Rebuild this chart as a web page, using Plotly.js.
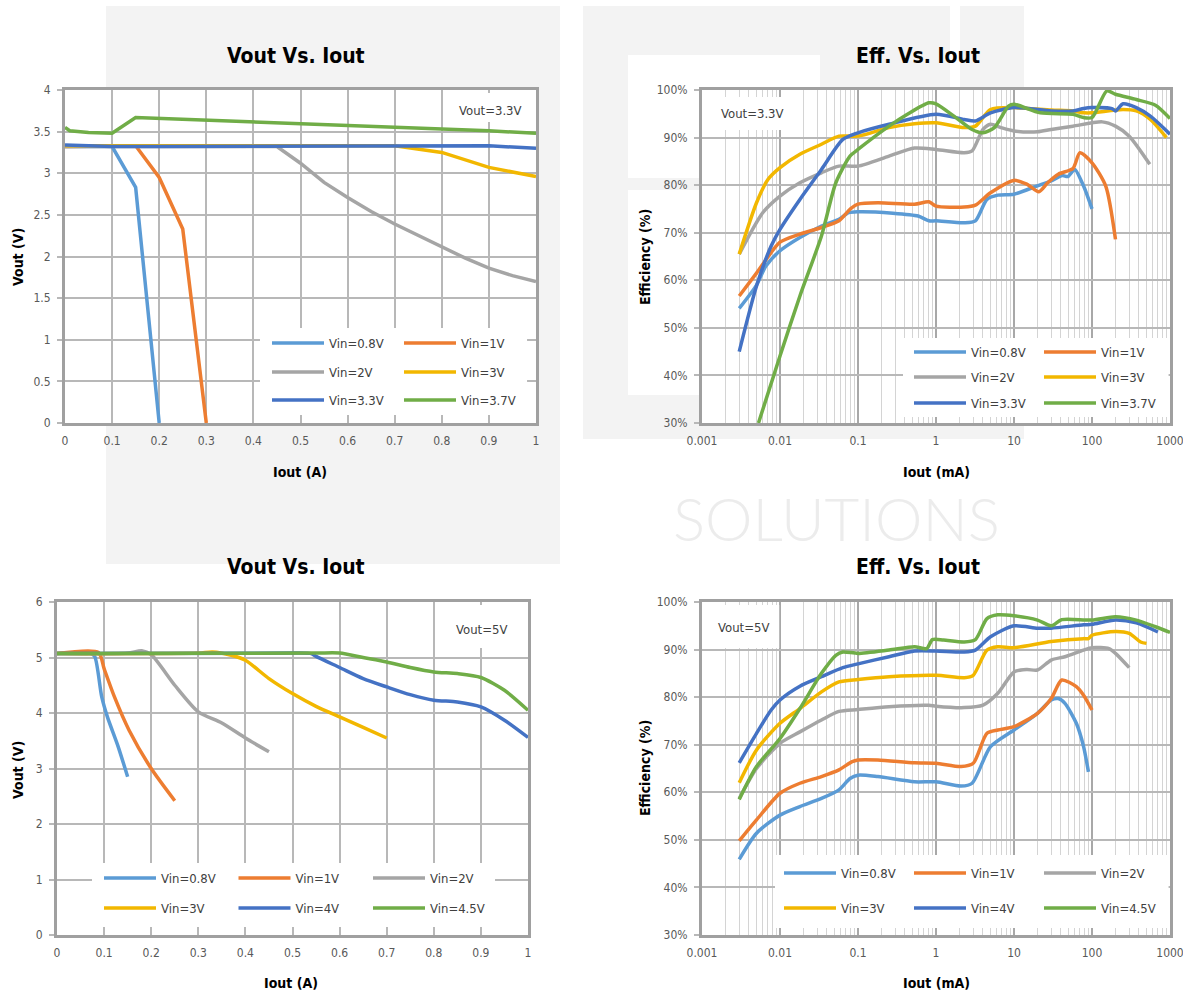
<!DOCTYPE html>
<html>
<head>
<meta charset="utf-8">
<script src="https://cdn.plot.ly/plotly-3.0.1.min.js"></script>
<style>html,body{margin:0;padding:0;background:#fff;}#chart{width:1183px;height:993px;}</style>
</head>
<body>
<div id="chart"></div>
<script>
// ---------------- DATA ----------------
// Top-left: Vout vs Iout (Vout=3.3V), Iout in A
const seriesNamesA = ["Vin=0.8V", "Vin=1V", "Vin=2V", "Vin=3V", "Vin=3.3V", "Vin=3.7V"];
const tlX_08 = [0, 0.05, 0.1, 0.15, 0.2];
const tlY_08 = [3.32, 3.32, 3.32, 2.83, 0];
const tlX_1 = [0, 0.05, 0.1, 0.15, 0.2, 0.25, 0.3];
const tlY_1 = [3.32, 3.32, 3.32, 3.33, 2.95, 2.33, 0];
const tlX_2 = [0, 0.1, 0.2, 0.3, 0.4, 0.45, 0.5, 0.55, 0.6, 0.65, 0.7, 0.75, 0.8, 0.85, 0.9, 0.95, 1.0];
const tlY_2 = [3.32, 3.32, 3.32, 3.32, 3.32, 3.32, 3.12, 2.89, 2.71, 2.54, 2.39, 2.25, 2.11, 1.98, 1.86, 1.77, 1.70];
const tlX_3 = [0, 0.1, 0.2, 0.3, 0.4, 0.5, 0.6, 0.7, 0.8, 0.9, 1.0];
const tlY_3 = [3.33, 3.33, 3.33, 3.33, 3.33, 3.33, 3.33, 3.33, 3.25, 3.07, 2.96];
const tlX_33 = [0, 0.1, 0.2, 0.3, 0.4, 0.5, 0.6, 0.7, 0.8, 0.9, 1.0];
const tlY_33 = [3.34, 3.32, 3.32, 3.32, 3.32, 3.32, 3.32, 3.33, 3.33, 3.33, 3.30];
const tlX_37 = [0, 0.01, 0.05, 0.1, 0.15, 0.2, 0.3, 0.4, 0.5, 0.6, 0.7, 0.8, 0.9, 1.0];
const tlY_37 = [3.55, 3.51, 3.49, 3.48, 3.67, 3.66, 3.64, 3.62, 3.60, 3.58, 3.56, 3.53, 3.51, 3.48];

// Top-right: Efficiency vs Iout (Vout=3.3V), Iout in mA, efficiency in %
const trX_08 = [0.003, 0.005, 0.0066, 0.01, 0.018, 0.034, 0.057, 0.076, 0.1, 0.28, 0.59, 0.81, 1, 2.3, 3.2, 4.5, 6.2, 10, 19.5, 30, 41.6, 49, 60, 78, 100];
const trY_08 = [54.1, 59.0, 63.0, 66.2, 69.0, 71.4, 72.8, 74.2, 74.4, 74.1, 73.5, 72.5, 72.5, 72.1, 72.5, 77.0, 77.9, 78.1, 79.8, 80.9, 82.0, 81.8, 83.3, 79.8, 75.0];
const trX_1 = [0.003, 0.005, 0.01, 0.018, 0.034, 0.057, 0.08, 0.1, 0.18, 0.53, 0.81, 1, 2.3, 3.2, 5, 10, 14.6, 20.8, 27, 37, 57, 70, 100, 150, 200];
const trY_1 = [56.7, 61.5, 68.0, 69.7, 71.1, 72.5, 75.0, 76.0, 76.3, 76.0, 76.5, 75.6, 75.4, 75.8, 78.4, 81.0, 80.2, 78.6, 80.5, 82.3, 83.5, 86.8, 84.7, 79.8, 68.6];
const trX_2 = [0.003, 0.006, 0.01, 0.018, 0.034, 0.057, 0.1, 0.25, 0.53, 1, 2.3, 2.9, 4, 5, 6.8, 10, 20, 30, 57, 135, 200, 300, 550];
const trY_2 = [65.5, 74.2, 77.7, 80.5, 82.6, 84.0, 84.0, 86.1, 87.8, 87.5, 86.8, 87.2, 91.7, 92.8, 92.1, 91.4, 91.2, 91.7, 92.4, 93.3, 92.4, 90.3, 84.4];
const trX_3 = [0.003, 0.005, 0.007, 0.01, 0.018, 0.034, 0.057, 0.1, 0.25, 0.53, 1, 2.3, 3.2, 5, 10, 30, 57, 78, 100, 250, 370, 560, 900];
const trY_3 = [65.5, 76.3, 81.2, 83.7, 86.5, 88.6, 90.3, 90.3, 92.1, 92.9, 93.1, 92.1, 92.4, 95.9, 96.3, 95.8, 95.6, 95.2, 95.2, 95.9, 95.6, 93.8, 90.0];
const trX_33 = [0.003, 0.005, 0.0077, 0.01, 0.018, 0.034, 0.064, 0.1, 0.25, 1, 2.3, 3.2, 5, 10, 30, 57, 78, 100, 180, 200, 250, 370, 560, 1000];
const trY_33 = [45.0, 58.8, 67.2, 70.7, 77.0, 83.3, 89.6, 91.0, 92.8, 94.9, 93.8, 93.5, 95.2, 96.3, 95.6, 95.6, 96.1, 96.3, 96.1, 95.6, 97.1, 96.3, 94.5, 90.7];
const trX_37 = [0.0053, 0.01, 0.018, 0.034, 0.052, 0.079, 0.1, 0.25, 0.43, 0.81, 1, 1.7, 2.9, 4, 5.6, 8.5, 10, 21.7, 57, 78, 100, 155, 200, 370, 650, 1000];
const trY_37 = [30.0, 44.1, 56.7, 69.3, 80.5, 86.1, 87.5, 92.4, 94.9, 97.3, 97.1, 94.5, 91.7, 91.0, 92.1, 96.6, 97.0, 95.2, 94.9, 94.2, 94.2, 99.8, 99.1, 98.0, 96.8, 94.0];

// Bottom-left: Vout vs Iout (Vout=5V), Iout in A
const seriesNamesB = ["Vin=0.8V", "Vin=1V", "Vin=2V", "Vin=3V", "Vin=4V", "Vin=4.5V"];
const blX_08 = [0, 0.07, 0.08, 0.095, 0.107, 0.13, 0.15];
const blY_08 = [5.07, 5.08, 5.02, 4.29, 3.93, 3.39, 2.85];
const blX_1 = [0, 0.088, 0.1, 0.122, 0.153, 0.2, 0.25];
const blY_1 = [5.07, 5.09, 4.80, 4.29, 3.69, 3.00, 2.42];
const blX_2 = [0, 0.15, 0.18, 0.2, 0.25, 0.3, 0.35, 0.4, 0.45];
const blY_2 = [5.07, 5.08, 5.12, 5.05, 4.50, 4.02, 3.82, 3.55, 3.30];
const blX_3 = [0, 0.3, 0.33, 0.37, 0.4, 0.45, 0.5, 0.55, 0.6, 0.65, 0.7];
const blY_3 = [5.07, 5.08, 5.10, 5.04, 4.95, 4.62, 4.35, 4.12, 3.93, 3.74, 3.55];
const blX_4 = [0, 0.5, 0.54, 0.55, 0.6, 0.65, 0.7, 0.75, 0.8, 0.85, 0.9, 0.95, 1.0];
const blY_4 = [5.07, 5.08, 5.07, 5.02, 4.82, 4.62, 4.47, 4.33, 4.23, 4.20, 4.11, 3.87, 3.56];
const blX_45 = [0, 0.55, 0.6, 0.65, 0.7, 0.75, 0.8, 0.85, 0.9, 0.95, 1.0];
const blY_45 = [5.07, 5.08, 5.08, 5.00, 4.92, 4.82, 4.74, 4.71, 4.64, 4.41, 4.05];

// Bottom-right: Efficiency vs Iout (Vout=5V), Iout in mA, efficiency in %
const brX_08 = [0.003, 0.005, 0.01, 0.018, 0.034, 0.057, 0.079, 0.1, 0.18, 0.53, 1, 2.1, 2.9, 5, 10, 20, 30, 37, 45, 63, 78, 90];
const brY_08 = [45.9, 51.4, 55.2, 57.0, 58.7, 60.5, 62.9, 63.6, 63.3, 62.2, 62.2, 61.3, 61.9, 69.6, 73.1, 76.6, 79.4, 79.7, 78.7, 74.5, 69.6, 64.3];
const brX_1 = [0.003, 0.005, 0.01, 0.018, 0.034, 0.057, 0.083, 0.1, 0.18, 0.53, 1, 2.1, 3, 4.5, 6.2, 10, 20, 30, 41, 63, 78, 100];
const brY_1 = [49.8, 54.2, 59.8, 61.9, 63.3, 64.7, 66.4, 66.8, 66.8, 66.2, 66.1, 65.4, 66.1, 72.4, 73.1, 73.8, 76.6, 79.7, 83.6, 82.2, 80.4, 77.3];
const brX_2 = [0.003, 0.005, 0.01, 0.018, 0.034, 0.057, 0.1, 0.25, 0.81, 1, 2.3, 4, 6.2, 10, 14.6, 20, 30, 45, 78, 100, 165, 200, 300];
const brY_2 = [58.7, 65.0, 70.3, 72.7, 75.2, 77.0, 77.4, 78.0, 78.3, 78.1, 77.8, 78.3, 80.8, 85.3, 85.8, 85.7, 87.8, 88.5, 89.9, 90.4, 90.2, 89.2, 86.2];
const brX_3 = [0.003, 0.005, 0.01, 0.018, 0.034, 0.057, 0.1, 0.25, 1, 2.3, 3, 4.5, 6.2, 10, 30, 78, 90, 100, 200, 300, 420, 500];
const brY_3 = [62.0, 68.9, 74.5, 77.6, 81.1, 83.2, 83.7, 84.3, 84.6, 84.1, 84.6, 89.9, 90.6, 90.4, 91.7, 92.3, 92.3, 93.0, 93.8, 93.4, 91.6, 91.3];
const brX_4 = [0.003, 0.005, 0.0077, 0.01, 0.018, 0.034, 0.064, 0.1, 0.25, 0.53, 1, 2.3, 3.2, 5, 10, 20, 30, 78, 100, 200, 370, 700];
const brY_4 = [66.2, 72.4, 77.3, 79.4, 82.3, 84.3, 86.2, 87.0, 88.5, 89.7, 89.7, 89.5, 89.9, 92.7, 95.0, 94.5, 94.5, 95.2, 95.3, 96.2, 95.6, 93.7];
const brX_45 = [0.003, 0.005, 0.01, 0.018, 0.034, 0.052, 0.064, 0.1, 0.25, 0.53, 0.76, 0.9, 1.25, 2.3, 3.2, 4.5, 6.2, 10, 20, 30, 41, 100, 200, 370, 650, 1000];
const brY_45 = [58.5, 65.4, 71.3, 77.6, 85.0, 88.8, 89.5, 89.2, 89.9, 90.6, 90.2, 92.1, 92.0, 91.6, 92.1, 96.5, 97.3, 97.1, 96.2, 95.0, 96.3, 96.2, 96.9, 96.2, 94.8, 93.6];

// Tick labels
const linTickVals = [0, 0.1, 0.2, 0.3, 0.4, 0.5, 0.6, 0.7, 0.8, 0.9, 1];
const linTickText = ["0", "0.1", "0.2", "0.3", "0.4", "0.5", "0.6", "0.7", "0.8", "0.9", "1"];
const logTickVals = [0.001, 0.01, 0.1, 1, 10, 100, 1000];
const logTickText = ["0.001", "0.01", "0.1", "1", "10", "100", "1000"];
const effTickVals = [30, 40, 50, 60, 70, 80, 90, 100];
const effTickText = ["30%", "40%", "50%", "60%", "70%", "80%", "90%", "100%"];
const v33TickVals = [0, 0.5, 1, 1.5, 2, 2.5, 3, 3.5, 4];
const v33TickText = ["0", "0.5", "1", "1.5", "2", "2.5", "3", "3.5", "4"];
const v5TickVals = [0, 1, 2, 3, 4, 5, 6];
const v5TickText = ["0", "1", "2", "3", "4", "5", "6"];

// ---------------- STYLE ----------------
const W = 1183, H = 993;
const FONT = "'Liberation Sans Narrow', 'DejaVu Sans Condensed', 'Arial Narrow', sans-serif";
const colors = ["#5B9BD5", "#ED7D31", "#A5A5A5", "#F2B700", "#4472C4", "#70AD47"];
const LW = 3.5;
const px = v => v / W;
const py = v => 1 - v / H;

// minor gridline positions for log axes (2..9 per decade)
const minorVals = [];
for (let e = -3; e < 3; e++) for (let m = 2; m <= 9; m++) minorVals.push(m * Math.pow(10, e));

function mkTrace(x, y, name, ci, xa, ya, lg, shape) {
  return {type: "scatter", mode: "lines", x: x, y: y, name: name, xaxis: xa, yaxis: ya, legend: lg,
    line: {color: colors[ci], width: LW, shape: shape, smoothing: 0.7}, hoverinfo: "x+y+name"};
}

const traces = [
  mkTrace(tlX_08, tlY_08, seriesNamesA[0], 0, "x", "y", "legend", "linear"),
  mkTrace(tlX_1, tlY_1, seriesNamesA[1], 1, "x", "y", "legend", "linear"),
  mkTrace(tlX_2, tlY_2, seriesNamesA[2], 2, "x", "y", "legend2", "linear"),
  mkTrace(tlX_3, tlY_3, seriesNamesA[3], 3, "x", "y", "legend2", "linear"),
  mkTrace(tlX_33, tlY_33, seriesNamesA[4], 4, "x", "y", "legend3", "linear"),
  mkTrace(tlX_37, tlY_37, seriesNamesA[5], 5, "x", "y", "legend3", "linear"),

  mkTrace(trX_08, trY_08, seriesNamesA[0], 0, "x2", "y2", "legend4", "spline"),
  mkTrace(trX_1, trY_1, seriesNamesA[1], 1, "x2", "y2", "legend4", "spline"),
  mkTrace(trX_2, trY_2, seriesNamesA[2], 2, "x2", "y2", "legend5", "spline"),
  mkTrace(trX_3, trY_3, seriesNamesA[3], 3, "x2", "y2", "legend5", "spline"),
  mkTrace(trX_33, trY_33, seriesNamesA[4], 4, "x2", "y2", "legend6", "spline"),
  mkTrace(trX_37, trY_37, seriesNamesA[5], 5, "x2", "y2", "legend6", "spline"),

  mkTrace(blX_08, blY_08, seriesNamesB[0], 0, "x3", "y3", "legend7", "spline"),
  mkTrace(blX_1, blY_1, seriesNamesB[1], 1, "x3", "y3", "legend7", "spline"),
  mkTrace(blX_2, blY_2, seriesNamesB[2], 2, "x3", "y3", "legend7", "spline"),
  mkTrace(blX_3, blY_3, seriesNamesB[3], 3, "x3", "y3", "legend8", "spline"),
  mkTrace(blX_4, blY_4, seriesNamesB[4], 4, "x3", "y3", "legend8", "spline"),
  mkTrace(blX_45, blY_45, seriesNamesB[5], 5, "x3", "y3", "legend8", "spline"),

  mkTrace(brX_08, brY_08, seriesNamesB[0], 0, "x4", "y4", "legend9", "spline"),
  mkTrace(brX_1, brY_1, seriesNamesB[1], 1, "x4", "y4", "legend9", "spline"),
  mkTrace(brX_2, brY_2, seriesNamesB[2], 2, "x4", "y4", "legend9", "spline"),
  mkTrace(brX_3, brY_3, seriesNamesB[3], 3, "x4", "y4", "legend10", "spline"),
  mkTrace(brX_4, brY_4, seriesNamesB[4], 4, "x4", "y4", "legend10", "spline"),
  mkTrace(brX_45, brY_45, seriesNamesB[5], 5, "x4", "y4", "legend10", "spline")
];

const tickFont = {family: FONT, size: 12, color: "#595959"};
function linX(domain, anchor) {
  return {domain: domain, anchor: anchor, range: [0, 1], tickmode: "array", tickvals: linTickVals, ticktext: linTickText,
    showgrid: true, gridcolor: "#b8b8b8", gridwidth: 1.5, zeroline: false, showline: true, mirror: true,
    linecolor: "#a0a0a0", linewidth: 3, ticks: "", tickfont: tickFont, ticklabelstandoff: 5,
    ticklabeloverflow: "allow", fixedrange: true};
}
function linY(domain, anchor, range, vals, text) {
  return {domain: domain, anchor: anchor, range: range, tickmode: "array", tickvals: vals, ticktext: text,
    showgrid: true, gridcolor: "#b8b8b8", gridwidth: 1.5, zeroline: false, showline: true, mirror: true,
    linecolor: "#a0a0a0", linewidth: 3, ticks: "outside", ticklen: 5, tickcolor: "#b8b8b8", tickwidth: 1.5,
    tickfont: tickFont, ticklabelstandoff: 4, ticklabeloverflow: "allow", fixedrange: true};
}
function logX(domain, anchor) {
  return {domain: domain, anchor: anchor, type: "log", range: [-3, 3], tickmode: "array", tickvals: logTickVals, ticktext: logTickText,
    showgrid: true, gridcolor: "#a8a8a8", gridwidth: 1.5, zeroline: false, showline: true, mirror: true,
    linecolor: "#a0a0a0", linewidth: 3, ticks: "", tickfont: tickFont, ticklabelstandoff: 5,
    ticklabeloverflow: "allow",
    minor: {tickmode: "array", tickvals: minorVals, showgrid: true, gridcolor: "#d4d4d4", gridwidth: 1, ticks: ""},
    fixedrange: true};
}

const dTLx = [px(65), px(536)], dTRx = [px(702), px(1170)];
const dBLx = [px(57), px(528)], dBRx = [px(702), px(1170)];
const dTy = [py(423), py(90)], dBy = [py(935), py(602)];

// legends: one per row
const legFont = {family: FONT, size: 13, color: "#404040"};
function mkLegend(lineStartPx, rowPx, pitch) {
  const iw = 52;
  return {x: px(lineStartPx - 5), xanchor: "left", y: py(rowPx), yanchor: "middle", orientation: "h",
    bgcolor: "rgba(0,0,0,0)", borderwidth: 0, font: legFont, itemwidth: iw,
    entrywidth: pitch - iw - 15, entrywidthmode: "pixels", traceorder: "normal", itemclick: false, itemdoubleclick: false};
}

// white boxes inside plots (between gridlines and traces), in each subplot's data units
function box(xa, ya, x0, x1, y0, y1) {
  return {type: "rect", xref: xa, yref: ya, x0: x0, x1: x1, y0: y0, y1: y1,
    fillcolor: "#ffffff", line: {width: 0}, layer: "between"};
}
// light watermark blocks on the paper
function wm(x0, x1, y0, y1, c) {
  return {type: "rect", xref: "paper", yref: "paper", x0: px(x0), x1: px(x1), y0: py(y1), y1: py(y0),
    fillcolor: c || "#f3f3f3", line: {width: 0}, layer: "below"};
}

const shapes = [
  wm(106, 560, 6, 90), wm(106, 560, 423, 564), wm(536, 560, 90, 423),
  wm(583, 950, 6, 90), wm(960, 1024, 6, 90), wm(628, 820, 55, 90, "#ffffff"),
  wm(583, 628, 90, 439), wm(628, 702, 178, 190), wm(628, 702, 395, 439), wm(702, 1024, 423, 439),
  box("x", "y", 0.414, 0.981, 0.096, 1.14),
  box("x", "y", 0.815, 0.994, 3.616, 3.964),
  box("x2", "y2", 0.3776, 959, 31.26, 47.85),
  box("x2", "y2", 0.00104, 0.01236, 91.6, 98.53),
  box("x3", "y3", 0.0743, 0.930, 0.144, 1.296),
  box("x3", "y3", 0.832, 0.991, 5.172, 5.946),
  box("x4", "y4", 0.00863, 959, 31.47, 46.8),
  box("x4", "y4", 0.00104, 0.00977, 90.34, 99.37)
];

function ann(text, xPx, yPx, size, bold, color, angle) {
  return {text: bold ? "<b>" + text + "</b>" : text, xref: "paper", yref: "paper", x: px(xPx), y: py(yPx),
    xanchor: "center", yanchor: "middle", showarrow: false, textangle: angle || 0,
    font: {family: FONT, size: size, color: color || "#000000"}};
}

const annotations = [
  {text: "SOLUTIONS", xref: "paper", yref: "paper", x: px(836), y: py(518), xanchor: "center", yanchor: "middle",
   showarrow: false, font: {family: "Lato, 'Noto Sans', sans-serif", size: 60, color: "#ececec", weight: 300}},
  ann("Vout Vs. Iout", 296, 56, 21, true),
  ann("Eff. Vs. Iout", 918, 56, 21, true),
  ann("Vout Vs. Iout", 296, 567, 21, true),
  ann("Eff. Vs. Iout", 918, 567, 21, true),
  ann("Iout (A)", 300, 472, 14, true),
  ann("Iout (mA)", 936, 472, 14, true),
  ann("Iout (A)", 291, 983, 14, true),
  ann("Iout (mA)", 936, 983, 14, true),
  ann("Vout (V)", 18, 257, 14, true, "#000000", -90),
  ann("Efficiency (%)", 645, 257, 14, true, "#000000", -90),
  ann("Vout (V)", 18, 770, 14, true, "#000000", -90),
  ann("Efficiency (%)", 645, 768, 14, true, "#000000", -90),
  ann("Vout=3.3V", 490, 111, 13, false, "#404040"),
  ann("Vout=3.3V", 752, 113, 13, false, "#404040"),
  ann("Vout=5V", 481, 629, 13, false, "#404040"),
  ann("Vout=5V", 743, 627, 13, false, "#404040")
];

const layout = {
  width: W, height: H, margin: {l: 0, r: 0, t: 0, b: 0},
  paper_bgcolor: "#ffffff", plot_bgcolor: "#ffffff",
  font: {family: FONT, color: "#404040"},
  showlegend: true,
  xaxis: linX(dTLx, "y"),
  yaxis: linY(dTy, "x", [0, 4], v33TickVals, v33TickText),
  xaxis2: logX(dTRx, "y2"),
  yaxis2: linY(dTy, "x2", [30, 100], effTickVals, effTickText),
  xaxis3: linX(dBLx, "y3"),
  yaxis3: linY(dBy, "x3", [0, 6], v5TickVals, v5TickText),
  xaxis4: logX(dBRx, "y4"),
  yaxis4: linY(dBy, "x4", [30, 100], effTickVals, effTickText),
  legend: mkLegend(272, 343, 132),
  legend2: mkLegend(272, 372, 132),
  legend3: mkLegend(272, 400, 132),
  legend4: mkLegend(914, 352, 130),
  legend5: mkLegend(914, 377, 130),
  legend6: mkLegend(914, 403, 130),
  legend7: mkLegend(104, 878, 134.5),
  legend8: mkLegend(104, 908, 134.5),
  legend9: mkLegend(784, 873, 130),
  legend10: mkLegend(784, 908, 130),
  shapes: shapes,
  annotations: annotations
};

Plotly.newPlot("chart", traces, layout, {displayModeBar: false, responsive: false});
</script>
</body>
</html>
